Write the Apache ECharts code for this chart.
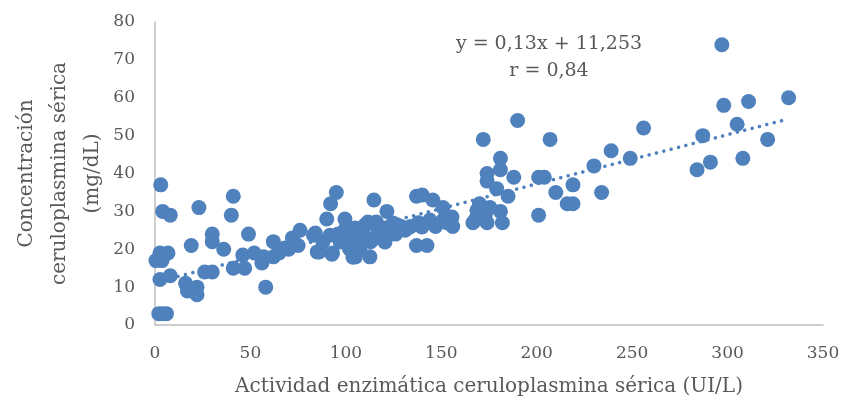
<!DOCTYPE html>
<html>
<head>
<meta charset="utf-8">
<script src="https://cdn.jsdelivr.net/npm/echarts@6/dist/echarts.min.js"></script>
<style>html,body{margin:0;padding:0;background:#fff;}#c{width:847px;height:409px;}</style>
</head>
<body>
<div id="c"></div>
<script>
// Actividad enzimática (UI/L)
var actividad = [
  0.5, 2, 4, 6, 3, 4, 8, 2.6, 6.8, 3.7, 2.6, 8, 16, 17, 22, 22, 23, 19, 26, 30,
  30, 30, 36, 41, 40, 41, 47, 46, 49, 52, 56, 57, 58, 62, 62, 65, 68, 70, 72, 76,
  75, 83, 84, 85, 86, 88, 90, 91.7, 92, 92.7, 93, 95, 97, 98.5, 99.5, 100, 103.7, 103.7, 104.8, 105,
  107.4, 108.4, 110, 111.6, 112.6, 113, 114.7, 115, 115, 116, 120.5, 120.5, 121.5, 124.7, 127, 131, 132.5, 137, 137, 138,
  139.9, 140, 142.5, 144, 145.6, 150.9, 151, 155.6, 156, 166.6, 168.7, 171, 172, 174, 174, 174, 175.5, 179, 181, 181,
  181, 182, 185, 188, 190, 201, 201, 204, 207, 210, 216, 219, 219, 230, 234, 239, 249, 256, 284, 287,
  291, 297, 298, 305, 308, 311, 321, 332,
  101, 106, 109, 118, 123, 126, 129, 134, 96, 102, 108, 117, 147, 153, 168, 170, 173
];
// Concentración ceruloplasmina (mg/dL)
var concentracion = [
  17, 3, 3, 3, 37, 30, 29, 19, 19, 17, 12, 13, 11, 9, 8, 10, 31, 21, 14, 14,
  24, 22, 20, 34, 29, 15, 15, 18.5, 24, 19, 16.4, 18, 10, 22, 18, 19, 20.3, 20, 23, 25,
  21, 23.7, 24.3, 19.3, 19.3, 21.9, 28, 23.7, 32, 18.7, 19, 35, 21.9, 24.5, 28, 25.6, 17.9, 21.9, 25.6, 18,
  20.3, 23, 26.4, 27.2, 18, 22, 33, 26.9, 23, 27.2, 25.6, 21.9, 30, 26.9, 26.4, 25, 25.6, 34, 21, 27,
  25.9, 34.3, 21, 27.7, 33, 31, 27.7, 28.5, 26, 27, 30.3, 31, 49, 40, 38, 27, 31, 36, 44, 41,
  30, 27, 34, 39, 54, 39, 29, 39, 49, 35, 32, 32, 37, 42, 35, 46, 44, 52, 41, 50,
  43, 74, 58, 53, 44, 59, 49, 60,
  23, 23, 25, 24, 25, 24, 26, 26, 24, 20, 22, 25, 26, 27, 28, 32, 29
];
// Línea de tendencia lineal: y = 0,13x + 11,253
var trendCoef = [0.13, 11.253];
var trendX = [0.5, 332];
var xTicks = [0, 350, 50];
var yTicks = [0, 80, 10];

var pts = actividad.map(function (x, i) { return [x, concentracion[i]]; });
var trend = trendX.map(function (x) { return [x, trendCoef[0] * x + trendCoef[1]]; });

var FONT = 'DejaVu Serif';
var TXT = '#595959';
var chart = echarts.init(document.getElementById('c'), null, { renderer: 'canvas' });
chart.setOption({
  animation: false,
  backgroundColor: '#ffffff',
  grid: { left: 155, right: 24, top: 22, bottom: 84, containLabel: false, outerBoundsMode: 'none' },
  xAxis: {
    type: 'value', min: xTicks[0], max: xTicks[1], interval: xTicks[2],
    axisLine: { show: true, lineStyle: { color: '#bfbfbf', width: 1.5 } },
    axisTick: { show: false }, splitLine: { show: false },
    axisLabel: { color: TXT, fontFamily: FONT, fontSize: 17, margin: 20 },
    name: 'Actividad enzimática ceruloplasmina sérica (UI/L)',
    nameLocation: 'middle', nameGap: 52, nameMoveOverlap: false,
    nameTextStyle: { color: TXT, fontFamily: FONT, fontSize: 20 }
  },
  yAxis: {
    type: 'value', min: yTicks[0], max: yTicks[1], interval: yTicks[2],
    axisLine: { show: true, lineStyle: { color: '#bfbfbf', width: 1.5 } },
    axisTick: { show: false }, splitLine: { show: false },
    axisLabel: { color: TXT, fontFamily: FONT, fontSize: 17, margin: 20 },
    name: 'Concentración\nceruloplasmina sérica\n(mg/dL)',
    nameLocation: 'middle', nameGap: 46, nameRotate: 90, nameMoveOverlap: false,
    nameTextStyle: { color: TXT, fontFamily: FONT, fontSize: 20, lineHeight: 33 }
  },
  series: [
    {
      type: 'line', data: trend, symbol: 'none', z: 1, silent: true,
      lineStyle: { color: '#4f81bd', width: 3.5, type: [0.1, 7.5], cap: 'round' }
    },
    {
      type: 'scatter', data: pts, symbol: 'circle', symbolSize: 15, z: 2,
      itemStyle: { color: '#4f81bd', opacity: 1 }
    }
  ],
  graphic: [
    { type: 'text', style: { text: 'y = 0,13x + 11,253', x: 549, y: 44, textAlign: 'center', textVerticalAlign: 'middle', fill: TXT, font: '19px "DejaVu Serif"' } },
    { type: 'text', style: { text: 'r = 0,84', x: 549, y: 71, textAlign: 'center', textVerticalAlign: 'middle', fill: TXT, font: '19px "DejaVu Serif"' } }
  ]
});
</script>
</body>
</html>
